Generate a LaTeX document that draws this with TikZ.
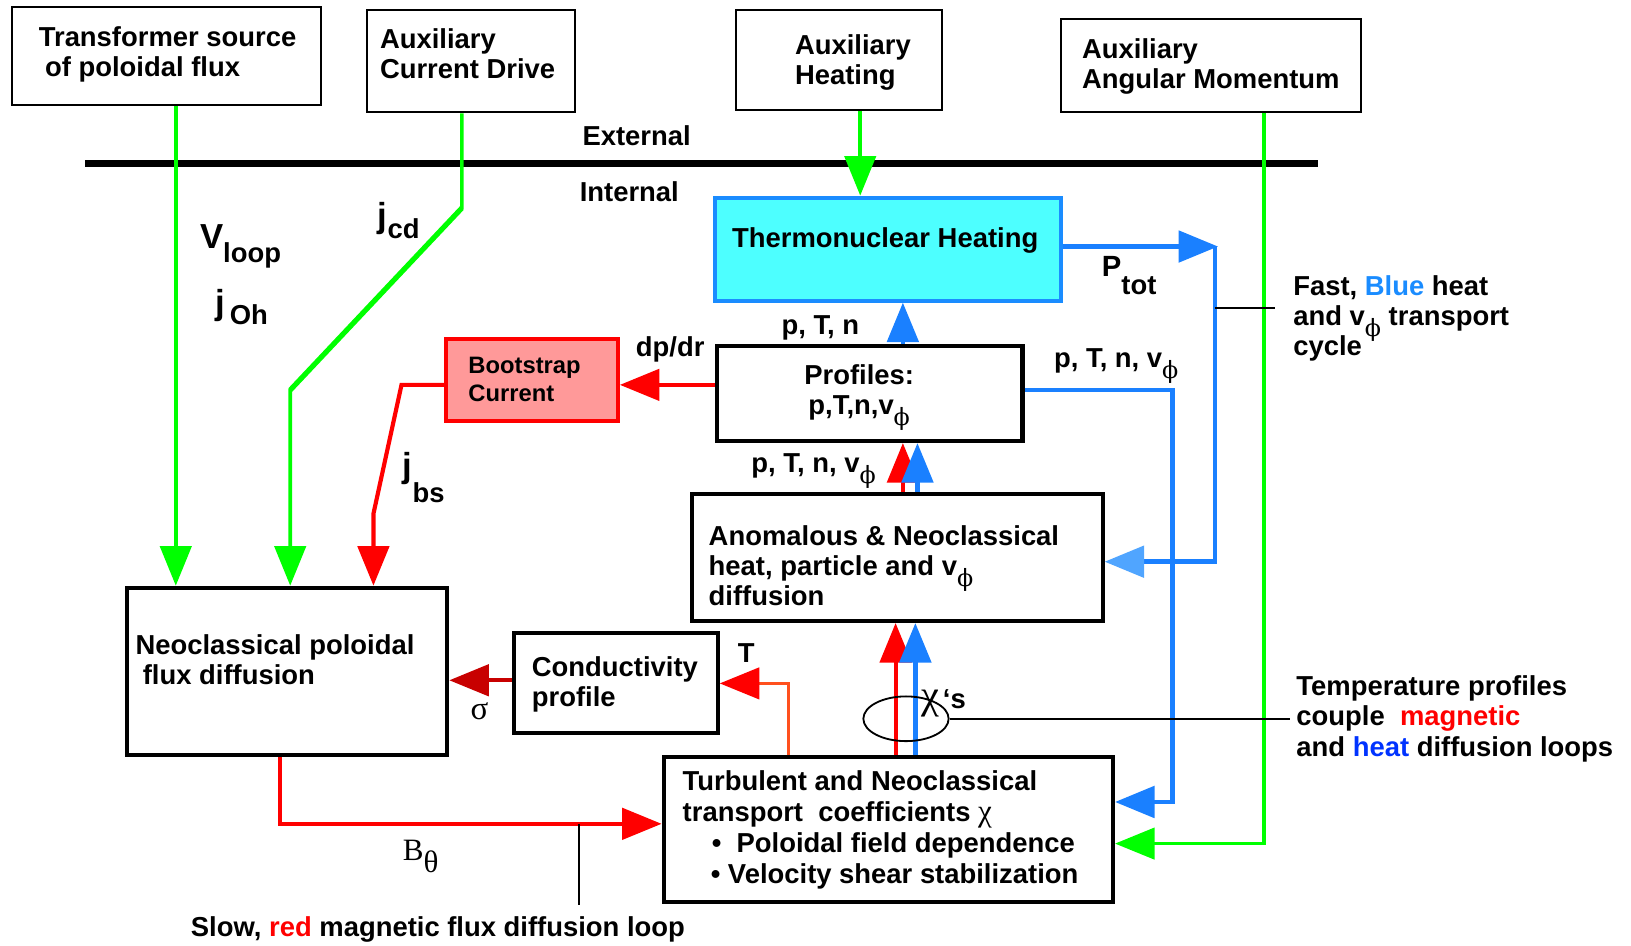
\documentclass[tikz,border=0pt]{standalone}
\usepackage{fontspec}
\setmainfont{Liberation Sans}
\newfontfamily\greekfont{Liberation Serif}
\newfontfamily\phifont{DejaVu Serif}
\usetikzlibrary{arrows.meta,shapes.geometric,fit}

\definecolor{fluxgreen}{RGB}{0,255,0}
\definecolor{heatblue}{RGB}{26,128,255}
\definecolor{paleblue}{RGB}{80,165,255}
\definecolor{thcyan}{RGB}{77,255,255}
\definecolor{thborder}{RGB}{26,140,255}
\definecolor{bsfill}{RGB}{255,153,153}
\definecolor{sigmared}{RGB}{200,0,0}
\definecolor{tred}{RGB}{255,80,30}
\definecolor{wordblue}{RGB}{26,140,255}
\definecolor{heatword}{RGB}{0,51,255}

\newcommand\phisub{\raisebox{-6pt}[0pt][0pt]{\phifont\mdseries\fontsize{13}{13}\selectfont ϕ}}
\newcommand\bigsz{\fontsize{19}{19}\selectfont}

\begin{document}
\begin{tikzpicture}[x=0.02cm,y=-0.02cm,
    every node/.style={font=\fontsize{15}{16.5}\selectfont\bfseries},
    thinbox/.style={draw,line width=1.1pt,inner sep=0pt},
    thickbox/.style={draw,line width=2.2pt,inner sep=0pt},
    txt/.style={anchor=west,align=left,inner sep=0pt},
    lbl/.style={anchor=base west,inner sep=0pt},
    bigtip/.style={-{Triangle[length=0.76cm,width=0.6cm]}},
    gline/.style={draw=fluxgreen,line width=0.07cm},
    bline/.style={draw=heatblue,line width=0.09cm},
    rline/.style={draw=red,line width=0.08cm},
    pointer/.style={draw=black,line width=1pt}]
  \useasboundingbox (0,0) rectangle (1568,909);

  % external sources
  \node[thinbox,fit={(12,7) (309,101)}] (trans) {};
  \node[thinbox,fit={(353,10) (553,108)}] (curdrive) {};
  \node[thinbox,fit={(708,10) (906,106)}] (auxheat) {};
  \node[thinbox,fit={(1020,18) (1308,108)}] (angmom) {};
  \node[txt] (transtxt) at (37,52) {Transformer source\\\hspace*{0.12cm}of poloidal flux};
  \node[txt] (cdtxt) at (365,52) {Auxiliary\\Current Drive};
  \node[txt] (heattxt) at (764,60) {Auxiliary\\Heating};
  \node[txt] (amtxt) at (1040,64) {Auxiliary\\Angular Momentum};

  \draw[line width=0.13cm] (82,157) -- (1267,157);
  \node (exttxt) at (612,130) {External};
  \node (inttxt) at (605,184) {Internal};

  % internal boxes
  \node[draw=thborder,fill=thcyan,line width=2.2pt,inner sep=0pt,fit={(687,190) (1020,289)}] (thermo) {};
  \node (thermotxt) at (851,231) {Thermonuclear Heating};
  \node[thickbox,fit={(689,333) (983,424)}] (profiles) {};
  \node[align=center] (proftxt) at (826,377) {Profiles:\\p,T,n,v\phisub};
  \node[draw=red,fill=bsfill,line width=2.2pt,inner sep=0pt,fit={(429,326) (594,405)}] (bootstrap) {};
  \node[txt,font=\fontsize{13}{15.5}\selectfont\bfseries] (bstxt) at (450,365) {Bootstrap\\Current};
  \node[thickbox,fit={(665,475) (1060,597)}] (anomalous) {};
  \node[txt] (anomtxt) at (681,544) {Anomalous \& Neoclassical\\heat, particle and v\phisub\\diffusion};
  \node[thickbox,fit={(122,565) (430,726)}] (neopol) {};
  \node[txt] (neotxt) at (130,634) {Neoclassical poloidal\\\hspace*{0.14cm}flux diffusion};
  \node[thickbox,fit={(494,609) (690,705)}] (conduct) {};
  \node[txt] (condtxt) at (511,658) {Conductivity\\profile};
  \node[thickbox,fit={(638,728) (1070,867)}] (turbulent) {};
  \node[txt,font=\fontsize{15}{17}\selectfont\bfseries] (turbtxt) at (656,798) {Turbulent and Neoclassical\\transport\ \ coefficients {\greekfont\mdseries\fontsize{17}{17}\selectfont χ}\\\hspace*{0.56cm}•\ \ Poloidal field dependence\\\hspace*{0.54cm}• Velocity shear stabilization};

  % column and corner points
  \coordinate (colV) at (169,0);
  \coordinate (colH) at (827,0);
  \coordinate (colUp) at (868,0);
  \coordinate (colUpB) at (882,0);
  \coordinate (colTr) at (861,0);
  \coordinate (colTb) at (880,0);
  \coordinate (rowBS) at (0,370);
  \coordinate (rowSig) at (0,654);
  \coordinate (cdbend) at (444,200);
  \coordinate (cdfoot) at (279,375);
  \coordinate (amcorner) at (1215,811);
  \coordinate (ptcorner) at (1168,237);
  \coordinate (ptfoot) at (1168,540);
  \coordinate (pfcorner) at (1127,375);
  \coordinate (pffoot) at (1127,771);
  \coordinate (bsa) at (386,370);
  \coordinate (bsb) at (359,494);
  \coordinate (tcorner) at (758,657);
  \coordinate (bcorner) at (269,792);
  \coordinate (fasttick) at (1168,296);
  \coordinate (slowtick) at (557,792);

  % green drives
  \draw[gline,bigtip] (trans.south -| colV) -- (neopol.north -| colV);
  \draw[gline,bigtip] (curdrive.south -| cdbend) -- (cdbend) -- (cdfoot) -- (neopol.north -| cdfoot);
  \draw[gline,line width=0.1cm] (cdbend) -- (cdfoot);
  \draw[gline,bigtip] (auxheat.south -| colH) -- (thermo.north -| colH);
  \draw[gline,bigtip] (angmom.south -| amcorner) -- (amcorner) -- (turbulent.east |- amcorner);

  % blue heat loop
  \draw[bline,bigtip] (thermo.east |- ptcorner) -- ([xshift=0.06cm]ptcorner);
  \draw[bline,-{Triangle[length=0.76cm,width=0.6cm,color=paleblue]}] (ptcorner) -- (ptfoot) -- (anomalous.east |- ptfoot);
  \draw[bline,bigtip] (profiles.north -| colUp) -- (thermo.south -| colUp);
  \draw[bline,bigtip] (profiles.east |- pfcorner) -- (pfcorner) -- (pffoot) -- (turbulent.east |- pffoot);
  \draw[rline,bigtip] (anomalous.north -| colUp) -- (profiles.south -| colUp);
  \draw[bline,bigtip] (anomalous.north -| colUpB) -- (profiles.south -| colUpB);
  \draw[rline,bigtip] (turbulent.north -| colTr) -- (anomalous.south -| colTr);
  \draw[bline,bigtip] (turbulent.north -| colTb) -- (anomalous.south -| colTb);

  % red flux loop
  \draw[rline,bigtip] (profiles.west |- rowBS) -- (bootstrap.east |- rowBS);
  \draw[rline,bigtip] (bootstrap.west |- bsa) -- (bsa) -- (bsb) -- (neopol.north -| bsb);
  \draw[draw=sigmared,line width=0.08cm,bigtip] (conduct.west |- rowSig) -- (neopol.east |- rowSig);
  \draw[draw=tred,line width=0.07cm,-{Triangle[length=0.76cm,width=0.6cm,color=red]}] (turbulent.north -| tcorner) -- (tcorner) -- (conduct.east |- tcorner);
  \draw[rline,bigtip] (neopol.south -| bcorner) -- (bcorner) -- (turbulent.west |- bcorner);

  % labels
  \node[lbl] (vlooptxt) at (192,239) {{\bigsz V}\raisebox{-7.4pt}{loop}};
  \node[lbl] (johtxt) at (207,302) {{\bigsz j}\,\raisebox{-5.7pt}{Oh}};
  \node[lbl] (jcdtxt) at (363,219) {{\bigsz j}\raisebox{-5.7pt}{cd}};
  \node[lbl] (jbstxt) at (387,459) {{\bigsz j}\raisebox{-13.6pt}{bs}};
  \node[lbl] (ptottxt) at (1059,266) {{\fontsize{16}{16}\selectfont P}\raisebox{-10pt}{tot}};
  \node[lbl] (ptntxt) at (751,322) {p, T, n};
  \node[lbl] (dpdrtxt) at (611,343) {dp/dr};
  \node[lbl] (ptnvup) at (1013,353) {p, T, n, v\phisub};
  \node[lbl] (ptnvlow) at (722,454) {p, T, n, v\phisub};
  \node[lbl] (ttxt) at (709,637) {T};
  \node[lbl] (sigtxt) at (452,692) {\greekfont\mdseries\fontsize{18}{18}\selectfont σ};
  \node[lbl] (bthtxt) at (387,827) {\greekfont\mdseries\fontsize{17}{17}\selectfont B\raisebox{-6.8pt}{θ}};
  \node[lbl] (chitxt) at (886,681) {{\greekfont\mdseries\fontsize{22}{22}\selectfont χ}\hspace{0.06cm}‘s};

  % loop notes
  \node[draw,ellipse,line width=1pt,inner sep=0pt,minimum width=1.64cm,minimum height=0.86cm] (chis) at (871,691) {};
  \node[txt] (fasttxt) at (1243,306) {Fast, \textcolor{wordblue}{Blue} heat\\and v\phisub{} transport\\cycle};
  \node[txt] (temptxt) at (1246,691) {Temperature profiles\\couple\ \ \textcolor{red}{magnetic}\\and \textcolor{heatword}{heat} diffusion loops};
  \node (slowtxt) at (421,894) {Slow, \textcolor{red}{red} magnetic flux diffusion loop};
  \draw[pointer] (fasttick) -- ([xshift=-0.34cm]fasttxt.west |- fasttick);
  \draw[pointer] (chis.east) -- ([xshift=-0.12cm]temptxt.west |- chis.east);
  \draw[pointer] (slowtick) -- ([yshift=0.1cm]slowtick |- slowtxt.north);
\end{tikzpicture}
\end{document}
